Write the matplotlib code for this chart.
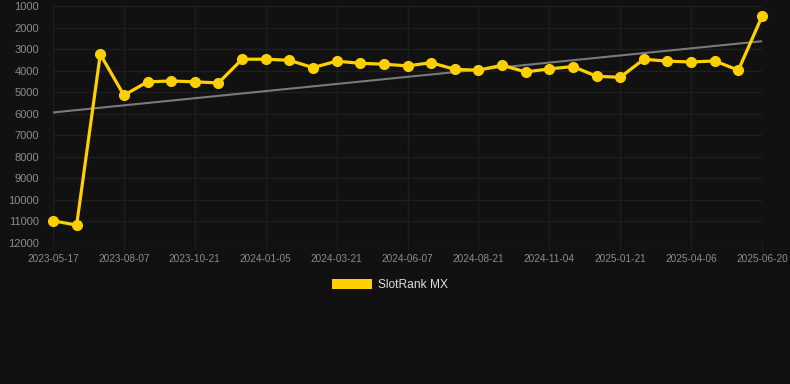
import matplotlib
matplotlib.use("Agg")
import matplotlib.pyplot as plt
from matplotlib.patches import Patch
import numpy as np

dates = ["2023-05-17", "", "", "2023-08-07", "", "", "2023-10-21", "", "", "2024-01-05", "", "",
         "2024-03-21", "", "", "2024-06-07", "", "", "2024-08-21", "", "", "2024-11-04", "", "",
         "2025-01-21", "", "", "2025-04-06", "", "", "2025-06-20"]
ranks = [10970, 11170, 3240, 5140, 4520, 4480, 4520, 4570, 3470, 3470, 3520, 3860, 3560, 3660, 3700,
         3780, 3630, 3940, 3980, 3750, 4060, 3920, 3810, 4260, 4310, 3470, 3560, 3600, 3550, 3980, 1480]
y_ticks = [1000, 2000, 3000, 4000, 5000, 6000, 7000, 8000, 9000, 10000, 11000, 12000]
series_name = "SlotRank MX"

plt.rcParams['font.family'] = ['Liberation Sans', 'DejaVu Sans']
BG = '#111111'
YEL = '#FFD000'
GRID = '#1e1e1e'

fig = plt.figure(figsize=(7.9, 3.84), dpi=100, facecolor=BG)
ax = fig.add_axes([53/790, 1-243/384, 709/790, 237/384])
ax.set_facecolor(BG)

x = np.arange(len(ranks))
coef = np.polyfit(x, ranks, 1)
trend = np.polyval(coef, x)
ax.plot(x, trend, color='#7a7a7a', lw=1.5, zorder=2)
ax.plot(x, ranks, color=YEL, lw=2.3, marker='o', ms=7, zorder=3, clip_on=False)

ax.set_xlim(0, len(ranks)-1)
ax.set_ylim(12000, 1000)
ax.set_yticks(y_ticks)
ax.set_yticklabels([str(v) for v in y_ticks])
tick_idx = [i for i, d in enumerate(dates) if d]
ax.set_xticks(tick_idx)
ax.set_xticklabels([dates[i] for i in tick_idx])
for s in ax.spines.values():
    s.set_visible(False)
ax.grid(True, color=GRID, lw=1)
ax.tick_params(axis='y', length=0, pad=10, labelsize=8, labelcolor='#8c8c8c')
ax.tick_params(axis='x', length=5, color=GRID, pad=3, labelsize=7.2, labelcolor='#8c8c8c')
ax.set_axisbelow(True)

fig.legend(handles=[Patch(facecolor=YEL, edgecolor='none')], labels=[series_name],
           loc='center', bbox_to_anchor=(390/790, 1-285/384), frameon=False,
           fontsize=8.64, labelcolor='#dddddd', handlelength=3.33, handleheight=0.83,
           handletextpad=0.5)

fig.savefig('out.png', dpi=100, facecolor=BG)
